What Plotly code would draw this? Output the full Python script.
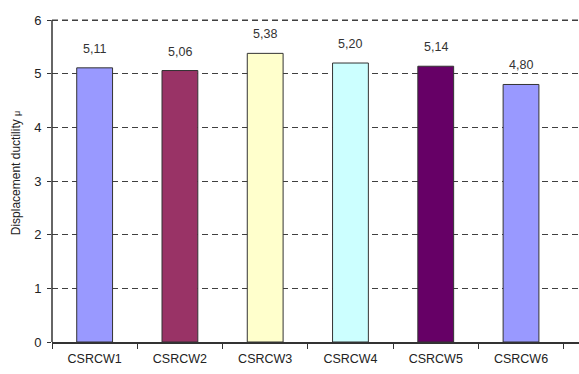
import plotly.graph_objects as go

# Specimens and their displacement ductility
specimens = ["CSRCW1", "CSRCW2", "CSRCW3", "CSRCW4", "CSRCW5", "CSRCW6"]
ductility = [5.11, 5.06, 5.38, 5.20, 5.14, 4.80]
bar_colors = ["#9999FF", "#993366", "#FFFFCC", "#CCFFFF", "#660066", "#9999FF"]
y_ticks = [0, 1, 2, 3, 4, 5, 6]

FONT = "Liberation Sans, Arial, sans-serif"
GRID = dict(color="#404040", width=1.4, dash="6px,4px")

fig = go.Figure(
    go.Bar(
        x=specimens,
        y=ductility,
        width=0.42,
        marker=dict(color=bar_colors, line=dict(color="#333333", width=1)),
        hoverinfo="x+y",
    )
)

# value labels above each bar
for name, val in zip(specimens, ductility):
    fig.add_annotation(
        x=name,
        y=val,
        text=f"{val:.2f}".replace(".", ","),
        showarrow=False,
        yanchor="middle",
        yshift=19,
        font=dict(family=FONT, size=12.5, color="#333333"),
    )

# dashed line at the top tick of the value axis
fig.add_shape(
    type="line", xref="x domain", yref="y",
    x0=0, x1=1, y0=y_ticks[-1], y1=y_ticks[-1],
    line=GRID, layer="above",
)

fig.update_layout(
    width=579,
    height=374,
    margin=dict(l=52, r=0, t=4, b=32),
    paper_bgcolor="white",
    plot_bgcolor="white",
    showlegend=False,
    font=dict(family=FONT, color="#222222"),
    xaxis=dict(
        type="category",
        range=[-0.5, 5.68],
        showline=True,
        linecolor="#333333",
        linewidth=1.5,
        ticks="outside",
        tickson="boundaries",
        ticklen=5,
        tickcolor="#333333",
        showgrid=False,
        ticklabelstandoff=4,
        tickfont=dict(size=12.5, color="#222222"),
    ),
    yaxis=dict(
        # headroom above the top tick; the axis line is clipped by the shape below
        range=[0, 6.3],
        tickvals=y_ticks,
        showline=False,
        ticks="outside",
        ticklen=4,
        tickcolor="#333333",
        showgrid=True,
        gridcolor=GRID["color"],
        gridwidth=GRID["width"],
        griddash=GRID["dash"],
        zeroline=False,
        ticklabelstandoff=3,
        tickfont=dict(size=13, color="#222222"),
        title=dict(
            text="Displacement ductility <span style='font-size:9px'>μ</span>",
            font=dict(size=12, color="#222222"),
            standoff=10,
        ),
    ),
)

# value axis line running from 0 up to the top tick only
fig.add_shape(
    type="line", xref="x domain", yref="y",
    x0=0, x1=0, y0=y_ticks[0], y1=y_ticks[-1],
    line=dict(color="#333333", width=1.5), layer="above",
)

fig.write_html("out.html")
